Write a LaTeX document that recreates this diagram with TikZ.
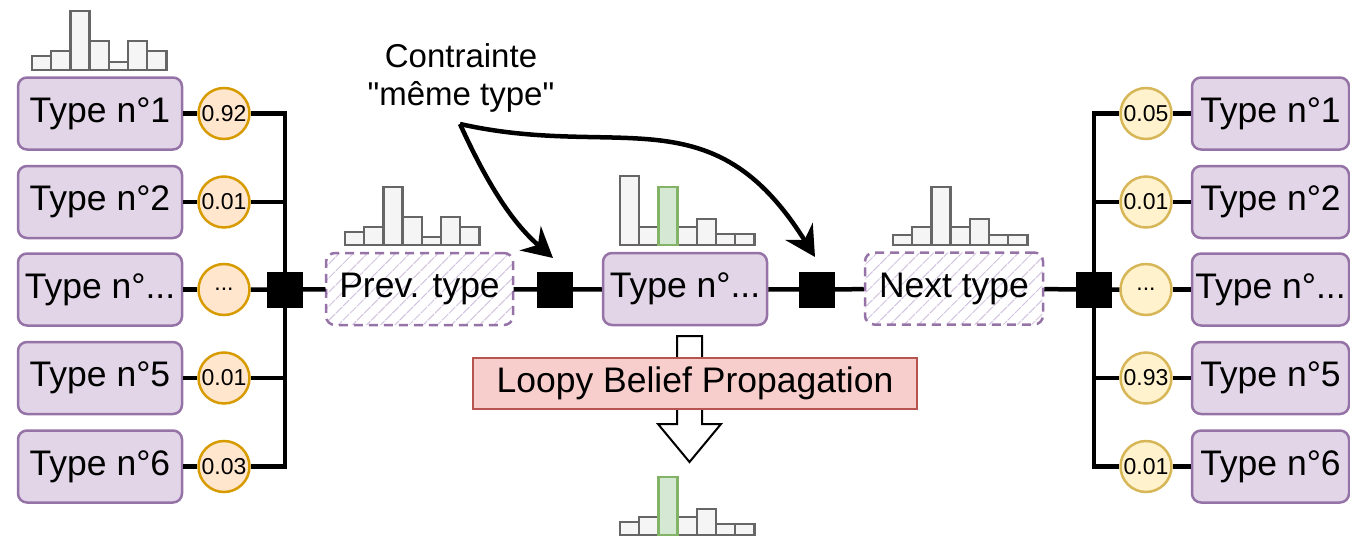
\documentclass[tikz,border=0pt]{standalone}
\usepackage{fontspec}
\setmainfont{Liberation Sans}
\usetikzlibrary{arrows.meta,patterns.meta,calc}
\definecolor{boxfill}{HTML}{E1D5E7}
\definecolor{boxdraw}{HTML}{9673A6}
\definecolor{ofill}{HTML}{FFE6CC}
\definecolor{odraw}{HTML}{D79B00}
\definecolor{yfill}{HTML}{FFF2CC}
\definecolor{ydraw}{HTML}{D6B656}
\definecolor{rfill}{HTML}{F8CECC}
\definecolor{rdraw}{HTML}{B85450}
\definecolor{gfill}{HTML}{D5E8D4}
\definecolor{gdraw}{HTML}{82B366}
\definecolor{hfill}{HTML}{F5F5F5}
\definecolor{hdraw}{HTML}{666666}
\definecolor{hatchc}{HTML}{D3C3DF}
\newcommand\drawhist[4]{%
  \foreach \hh [count=\ii from 0] in {#3} {%
    \ifnum\ii=#4\relax\else
      \draw[greybar] ({#1+\ii*19.2},#2) rectangle ++(19.2,-\hh);
    \fi}%
  \foreach \hh [count=\ii from 0] in {#3} {%
    \ifnum\ii=#4\relax
      \draw[greenbar] ({#1+\ii*19.2},#2) rectangle ++(19.2,-\hh);
    \fi}%
}
\begin{document}
\begin{tikzpicture}[x=1pt,y=-1pt,
  typebox/.style={draw=boxdraw, fill=boxfill, line width=2.5pt, rounded corners=9pt,
    minimum width=164pt, minimum height=72pt, inner sep=0pt, font=\fontsize{35.5}{40}\selectfont},
  hatchbox/.style={draw=boxdraw, dashed, dash pattern=on 9pt off 6pt, line width=2.5pt, rounded corners=9pt,
    pattern={Lines[angle=45,distance=10pt,line width=1pt]}, pattern color=hatchc,
    minimum height=72pt, inner sep=0pt, font=\fontsize{35.5}{40}\selectfont},
  oprob/.style={circle, draw=odraw, fill=ofill, line width=2.5pt, minimum size=51pt, inner sep=0pt,
    font=\fontsize{23}{26}\selectfont},
  yprob/.style={circle, draw=ydraw, fill=yfill, line width=2.5pt, minimum size=51pt, inner sep=0pt,
    font=\fontsize{23}{26}\selectfont},
  factor/.style={fill=black, draw=black, minimum width=35pt, minimum height=35pt, inner sep=0pt},
  conn/.style={draw=black, line width=4.5pt},
  curvearr/.style={draw=black, line width=4.5pt, -{Stealth[length=30pt,width=32pt,inset=10pt]}},
  greybar/.style={draw=hdraw, fill=hfill, line width=2.5pt},
  greenbar/.style={draw=gdraw, fill=gfill, line width=2.5pt},
]
\useasboundingbox (0,0) rectangle (1350,536);

% histograms
\drawhist{32}{70}{14,19,59,29,8,29,19}{-1}
\drawhist{345}{245}{13,18,58,28,8,28,18}{-1}
\drawhist{620}{245}{69,18,58,18,26,11,11}{2}
\drawhist{893}{245}{10,18,58,18,26,10,10}{-1}
\drawhist{620}{535}{13,18,58,18,26,11,11}{2}

% left column
\node[typebox] (L1) at (100,113.5) {Type n°1};
\node[typebox] (L2) at (100,202) {Type n°2};
\node[typebox] (L3) at (100,289.5) {Type n°...};
\node[typebox] (L5) at (100,378) {Type n°5};
\node[typebox] (L6) at (100,466.5) {Type n°6};
\node[oprob] (pL1) at (224,113.5) {0.92};
\node[oprob] (pL2) at (224,202) {0.01};
\node[oprob] (pL3) at (224,289.5) {...};
\node[oprob] (pL5) at (224,378) {0.01};
\node[oprob] (pL6) at (224,466.5) {0.03};

% right column
\node[typebox, minimum width=157pt] (R1) at (1270.5,113.5) {Type n°1};
\node[typebox, minimum width=157pt] (R2) at (1270.5,202) {Type n°2};
\node[typebox, minimum width=157pt] (R3) at (1270.5,289.5) {Type n°...};
\node[typebox, minimum width=157pt] (R5) at (1270.5,378) {Type n°5};
\node[typebox, minimum width=157pt] (R6) at (1270.5,466.5) {Type n°6};
\node[yprob] (pR1) at (1146,113.5) {0.05};
\node[yprob] (pR2) at (1146,202) {0.01};
\node[yprob] (pR3) at (1146,289.5) {...};
\node[yprob] (pR5) at (1146,378) {0.93};
\node[yprob] (pR6) at (1146,466.5) {0.01};

% middle chain
\node[factor] (f1) at (285,289.5) {};
\node[hatchbox, minimum width=187pt] (prev) at (419.5,289) {Prev. type};
\node[factor] (f2) at (555,289.5) {};
\node[typebox] (cur) at (685,289) {Type n°...};
\node[factor] (f3) at (817,289.5) {};
\node[hatchbox, minimum width=178pt] (next) at (954,288.5) {Next type};
\node[factor] (f4) at (1094,289.5) {};

% connectors left
\foreach \k in {1,2,3,5,6} { \draw[conn] (L\k) -- (pL\k); }
\foreach \k in {1,2,5,6} { \draw[conn] (pL\k) -| (f1); }
\draw[conn] (pL3) -- (f1) -- (prev) -- (f2) -- (cur) -- (f3) -- (next) -- (f4) -- (pR3);
% connectors right
\foreach \k in {1,2,3,5,6} { \draw[conn] (pR\k) -- (R\k); }
\foreach \k in {1,2,5,6} { \draw[conn] (f4) |- (pR\k); }

% hollow arrow
\draw[fill=white, draw=black, line width=2pt, line join=miter]
  (677,336) -- (702,336) -- (702,424) -- (721,424) -- (689.5,462) -- (658,424) -- (677,424) -- cycle;
\node[draw=rdraw, fill=rfill, line width=2.5pt, minimum width=444pt, minimum height=51pt, inner sep=0pt,
  font=\fontsize{35.5}{40}\selectfont] (lbp) at (695,383.5) {Loopy Belief Propagation};

% constraint label and curved arrows
\node[align=center, font=\fontsize{33}{38}\selectfont, inner sep=0pt] (con) at (461,78)
  {Contrainte\\\textquotedbl même type\textquotedbl};
\coordinate (cs) at (460,124);
\coordinate (t1) at (553,258);
\coordinate (t2) at (815,257);
\draw[curvearr] (cs) .. controls (490,190) and (515,225) .. (t1);
\draw[curvearr] (cs) .. controls (620,160) and (712,92) .. (t2);
\end{tikzpicture}
\end{document}
